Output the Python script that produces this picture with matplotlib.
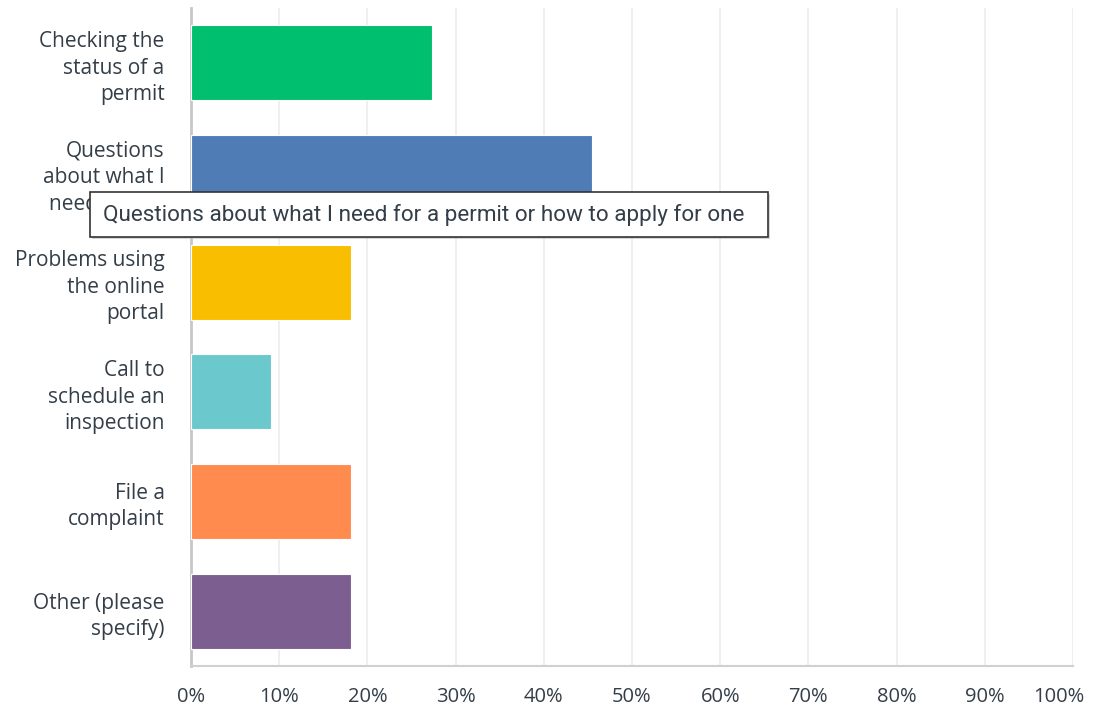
import matplotlib
matplotlib.use("Agg")
import matplotlib.pyplot as plt
from matplotlib.patches import Rectangle
from matplotlib.ticker import FuncFormatter
from matplotlib.transforms import ScaledTranslation

categories = [
    "Checking the\nstatus of a\npermit",
    "Questions\nabout what I\nneed for a...",
    "Problems using\nthe online\nportal",
    "Call to\nschedule an\ninspection",
    "File a\ncomplaint",
    "Other (please\nspecify)",
]
values = [27.27, 45.45, 18.18, 9.09, 18.18, 18.18]
colors = ["#00BF6F", "#507CB6", "#F9BE00", "#6BC8CD", "#FF8B4F", "#7D5E90"]
x_ticks = [0, 10, 20, 30, 40, 50, 60, 70, 80, 90, 100]
tooltip_text = "Questions about what I need for a permit or how to apply for one"

plt.rcParams["font.family"] = ["Open Sans", "DejaVu Sans"]

W, H = 1094, 709
fig = plt.figure(figsize=(W / 100, H / 100), dpi=100)
ax = fig.add_axes([191 / W, 1 - 666 / H, (1073 - 191) / W, (666 - 8) / H])

y = list(range(len(categories)))
ax.barh(y, values, height=0.685, color=colors, edgecolor="white",
        linewidth=0.8, zorder=3)
ax.set_ylim(len(categories) - 0.5, -0.5)
ax.set_xlim(0, 100)
ax.set_xticks(x_ticks)
ax.xaxis.set_major_formatter(FuncFormatter(lambda v, p: f"{v:.0f}%"))
ax.set_yticks(y)
ax.set_yticklabels(categories, fontsize=15, color="#333e48",
                   linespacing=1.34)
ax.tick_params(axis="x", length=0, pad=15, labelsize=14.5, labelcolor="#333e48")
ax.tick_params(axis="y", length=0, pad=19)
ax.grid(axis="x", color="#ececec", linewidth=1.2, zorder=0)
for s in ["top", "right"]:
    ax.spines[s].set_visible(False)
ax.spines["left"].set_color("#c8c8c8")
ax.spines["left"].set_linewidth(2)
ax.spines["bottom"].set_color("#d0d0d0")
ax.spines["bottom"].set_linewidth(1.5)

# keep the last percentage label inside the canvas
last = ax.get_xticklabels()[-1]
last.set_transform(last.get_transform() + ScaledTranslation(-14 / 100, 0, fig.dpi_scale_trans))

# hover tooltip box
x0, y0, x1, y1 = 90, 192, 768, 237
shadow = Rectangle(((x0 + 2) / W, 1 - (y1 + 2) / H), (x1 - x0) / W, (y1 - y0) / H,
                   transform=fig.transFigure, facecolor="#bbbbbb", edgecolor="none",
                   zorder=9, alpha=0.6)
fig.patches.append(shadow)
box = Rectangle((x0 / W, 1 - y1 / H), (x1 - x0) / W, (y1 - y0) / H,
                transform=fig.transFigure, facecolor="white", edgecolor="#333333",
                linewidth=1.2, zorder=10)
fig.patches.append(box)
fig.text(103 / W, 1 - 215 / H, tooltip_text, fontsize=16.2, color="#333e48",
         va="center", ha="left", zorder=11, family=["Roboto", "DejaVu Sans"])

fig.savefig("out.png", dpi=100)
